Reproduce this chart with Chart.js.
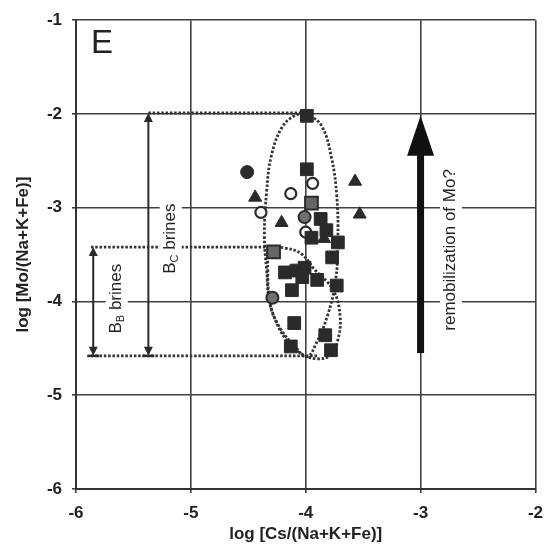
<!DOCTYPE html>
<html>
<head>
<meta charset="utf-8">
<script src="https://cdn.jsdelivr.net/npm/chart.js@4/dist/chart.umd.min.js"></script>
<style>
  html, body { margin:0; padding:0; background:#fff; }
  #wrap { width:553px; height:550px; }
</style>
</head>
<body>
<div id="wrap"><canvas id="chartE" width="553" height="550"></canvas></div>
<script>
const X_TICKS = [-6, -5, -4, -3, -2];
const Y_TICKS = [-6, -5, -4, -3, -2, -1];

// samples, log ratios
const sqX     = [-3.99,-3.99,-3.87,-3.82,-3.95,-3.72,-3.77,-4.18,-4.08,-4.01,-4.03,-3.90,-3.73,-4.12,-4.10,-3.83,-3.78,-4.13];
const sqY     = [-2.02,-2.59,-3.12,-3.24,-3.32,-3.37,-3.53,-3.69,-3.67,-3.64,-3.74,-3.77,-3.83,-3.88,-4.23,-4.36,-4.52,-4.48];
const sqGrayX = [-3.95,-4.28];
const sqGrayY = [-2.95,-3.47];
const triX    = [-4.44,-4.21,-3.57,-3.53,-3.84];
const triY    = [-2.89,-3.16,-2.72,-3.07,-3.33];
const dotX    = [-4.51];
const dotY    = [-2.62];
const dotGrayX = [-4.01,-4.29];
const dotGrayY = [-3.10,-3.96];
const ringX   = [-4.13,-3.94,-4.39,-4.00];
const ringY   = [-2.85,-2.74,-3.05,-3.26];

// brine fields (dotted outlines)
const bcLoopX = [-3.99,-3.86,-3.775,-3.73,-3.72,-3.74,-3.81,-3.91,-3.99,-4.10,-4.22,-4.31,-4.34,-4.36,-4.34,-4.30,-4.21,-4.10,-3.99];
const bcLoopY = [-1.99,-2.13,-2.47,-2.87,-3.35,-3.78,-4.15,-4.45,-4.59,-4.47,-4.29,-4.04,-3.67,-3.30,-2.82,-2.45,-2.15,-2.02,-1.99];
const bbLoopX = [-4.33,-4.18,-4.04,-3.93,-3.76,-3.70,-3.72,-3.78,-3.91,-4.06,-4.18,-4.27,-4.32,-4.33,-4.33];
const bbLoopY = [-3.42,-3.43,-3.49,-3.65,-3.88,-4.17,-4.41,-4.57,-4.61,-4.54,-4.39,-4.18,-3.94,-3.67,-3.42];
const guideTopX = [-5.37,-3.99];
const guideTopY = [-1.99,-1.99];
const guideMidX = [-5.87,-4.33];
const guideMidY = [-3.42,-3.42];
const guideLowX = [-5.87,-3.90];
const guideLowY = [-4.58,-4.58];

// double arrows for the brine ranges, big arrow for Mo
const bbArrowX = -5.85, bbArrowY = [-3.42,-4.58];
const bcArrowX = -5.37, bcArrowY = [-1.99,-4.58];
const moArrowX = -3.0,  moArrowY = [-4.55,-2.02];

const INK = "#2a2a2a";
const FONT = "'Liberation Sans', Arial, sans-serif";

const pts = (xs, ys) => xs.map((x, i) => ({ x, y: ys[i] }));

function dotted(xs, ys, curved) {
  return { data:pts(xs, ys), showLine:true, pointRadius:0, borderColor:"#333", borderWidth:2.8,
           borderDash:[2.5,1.8], tension: curved ? 0.4 : 0, fill:false, order:5 };
}

function marker(xs, ys, style, r, bg, border, bw) {
  return { data:pts(xs, ys), showLine:false, pointStyle:style, pointRadius:r, backgroundColor:bg,
           borderColor:border, borderWidth:bw, order:1 };
}

function arrowHead(ctx, x, y, dir, len, half) {
  ctx.beginPath();
  ctx.moveTo(x, y);
  ctx.lineTo(x - half, y - dir * len);
  ctx.lineTo(x + half, y - dir * len);
  ctx.closePath();
  ctx.fill();
}

// rotated label with a white box behind it, optional subscript after the first letter
function sideLabel(ctx, cx, cy, main, sub, rest, size) {
  ctx.save();
  ctx.translate(cx, cy);
  ctx.rotate(-Math.PI / 2);
  ctx.font = `${size}px ${FONT}`;
  const w1 = ctx.measureText(main).width;
  const w3 = ctx.measureText(rest).width;
  ctx.font = `${Math.round(size * 0.62)}px ${FONT}`;
  const w2 = sub ? ctx.measureText(sub).width : 0;
  const w = w1 + w2 + w3;
  ctx.fillStyle = "#fff";
  ctx.fillRect(-w / 2 - 4, -size * 0.62, w + 8, size * 1.3);
  ctx.fillStyle = "#222";
  ctx.textBaseline = "middle";
  ctx.textAlign = "left";
  ctx.font = `${size}px ${FONT}`;
  ctx.fillText(main, -w / 2, 0);
  if (sub) {
    ctx.font = `${Math.round(size * 0.62)}px ${FONT}`;
    ctx.fillText(sub, -w / 2 + w1, size * 0.3);
  }
  ctx.font = `${size}px ${FONT}`;
  ctx.fillText(rest, -w / 2 + w1 + w2, 0);
  ctx.restore();
}

const notes = {
  id: "notes",
  afterDatasetsDraw(chart) {
    const { ctx, scales:{ x, y } } = chart;
    ctx.save();
    ctx.strokeStyle = INK; ctx.fillStyle = INK;

    // brine range arrows
    [[bbArrowX, bbArrowY], [bcArrowX, bcArrowY]].forEach(([ax, ay]) => {
      const px = x.getPixelForValue(ax);
      const top = y.getPixelForValue(ay[0]), bot = y.getPixelForValue(ay[1]);
      ctx.lineWidth = 2;
      ctx.beginPath(); ctx.moveTo(px, top + 6); ctx.lineTo(px, bot - 6); ctx.stroke();
      arrowHead(ctx, px, top, -1, 9, 4.5);
      arrowHead(ctx, px, bot, 1, 9, 4.5);
      ctx.lineWidth = 2.5;
      ctx.beginPath(); ctx.moveTo(px - 6, bot); ctx.lineTo(px + 6, bot); ctx.stroke();
    });

    // remobilization arrow
    const mx = x.getPixelForValue(moArrowX);
    const mBot = y.getPixelForValue(moArrowY[0]), mTip = y.getPixelForValue(moArrowY[1]);
    ctx.fillStyle = "#111";
    ctx.fillRect(mx - 3.5, mTip + 38, 7, mBot - mTip - 38);
    arrowHead(ctx, mx, mTip, -1, 40, 13.5);

    sideLabel(ctx, x.getPixelForValue(-5.65), y.getPixelForValue(-3.97), "B", "B", " brines", 17);
    sideLabel(ctx, x.getPixelForValue(-5.18), y.getPixelForValue(-3.33), "B", "C", " brines", 17);
    sideLabel(ctx, x.getPixelForValue(-2.74), y.getPixelForValue(-3.45), "remobilization of Mo?", "", "", 17);

    ctx.fillStyle = "#222";
    ctx.font = `33px ${FONT}`;
    ctx.textAlign = "left"; ctx.textBaseline = "alphabetic";
    ctx.fillText("E", x.getPixelForValue(-5.87), y.getPixelForValue(-1.35));
    ctx.restore();
  }
};

const axisCommon = {
  grid:{ color:"#404040", lineWidth:1.6, tickLength:4, tickColor:"#404040" },
  border:{ color:"#333", width:2 },
  ticks:{ color:"#222", font:{ family:FONT, size:17, weight:"bold" }, padding:10, autoSkip:false }
};

new Chart(document.getElementById("chartE"), {
  type:"scatter",
  data:{ datasets:[
    dotted(bcLoopX, bcLoopY, true),
    dotted(bbLoopX, bbLoopY, true),
    dotted(guideTopX, guideTopY, false),
    dotted(guideMidX, guideMidY, false),
    dotted(guideLowX, guideLowY, false),
    marker(sqX, sqY, "rect", 9, INK, INK, 1),
    marker(sqGrayX, sqGrayY, "rect", 9, "#666", INK, 2),
    marker(triX, triY, "triangle", 7.5, INK, INK, 1),
    marker(dotX, dotY, "circle", 6.5, INK, INK, 1),
    marker(dotGrayX, dotGrayY, "circle", 6, "#707070", INK, 2),
    marker(ringX, ringY, "circle", 5.5, "#fff", INK, 2.2),
  ]},
  options:{
    responsive:false, animation:false, devicePixelRatio:1,
    layout:{ padding:{ top:19, right:6, left:0, bottom:0 } },
    plugins:{ legend:{ display:false }, tooltip:{ enabled:false } },
    scales:{
      x:{ ...axisCommon, min:-6, max:-2,
          afterBuildTicks: s => { s.ticks = X_TICKS.map(v => ({ value:v })); },
          afterFit: s => { s.height = 61; },
          title:{ display:true, text:"log [Cs/(Na+K+Fe)]", color:"#222",
                  font:{ family:FONT, size:17, weight:"bold" }, padding:{ top:0, bottom:5 } } },
      y:{ ...axisCommon, min:-6, max:-1,
          afterBuildTicks: s => { s.ticks = Y_TICKS.map(v => ({ value:v })); },
          afterFit: s => { s.width = 76; },
          title:{ display:true, text:"log [Mo/(Na+K+Fe)]", color:"#222",
                  font:{ family:FONT, size:17, weight:"bold" }, padding:{ top:13, bottom:0 } } }
    }
  },
  plugins:[notes]
});
</script>
</body>
</html>
